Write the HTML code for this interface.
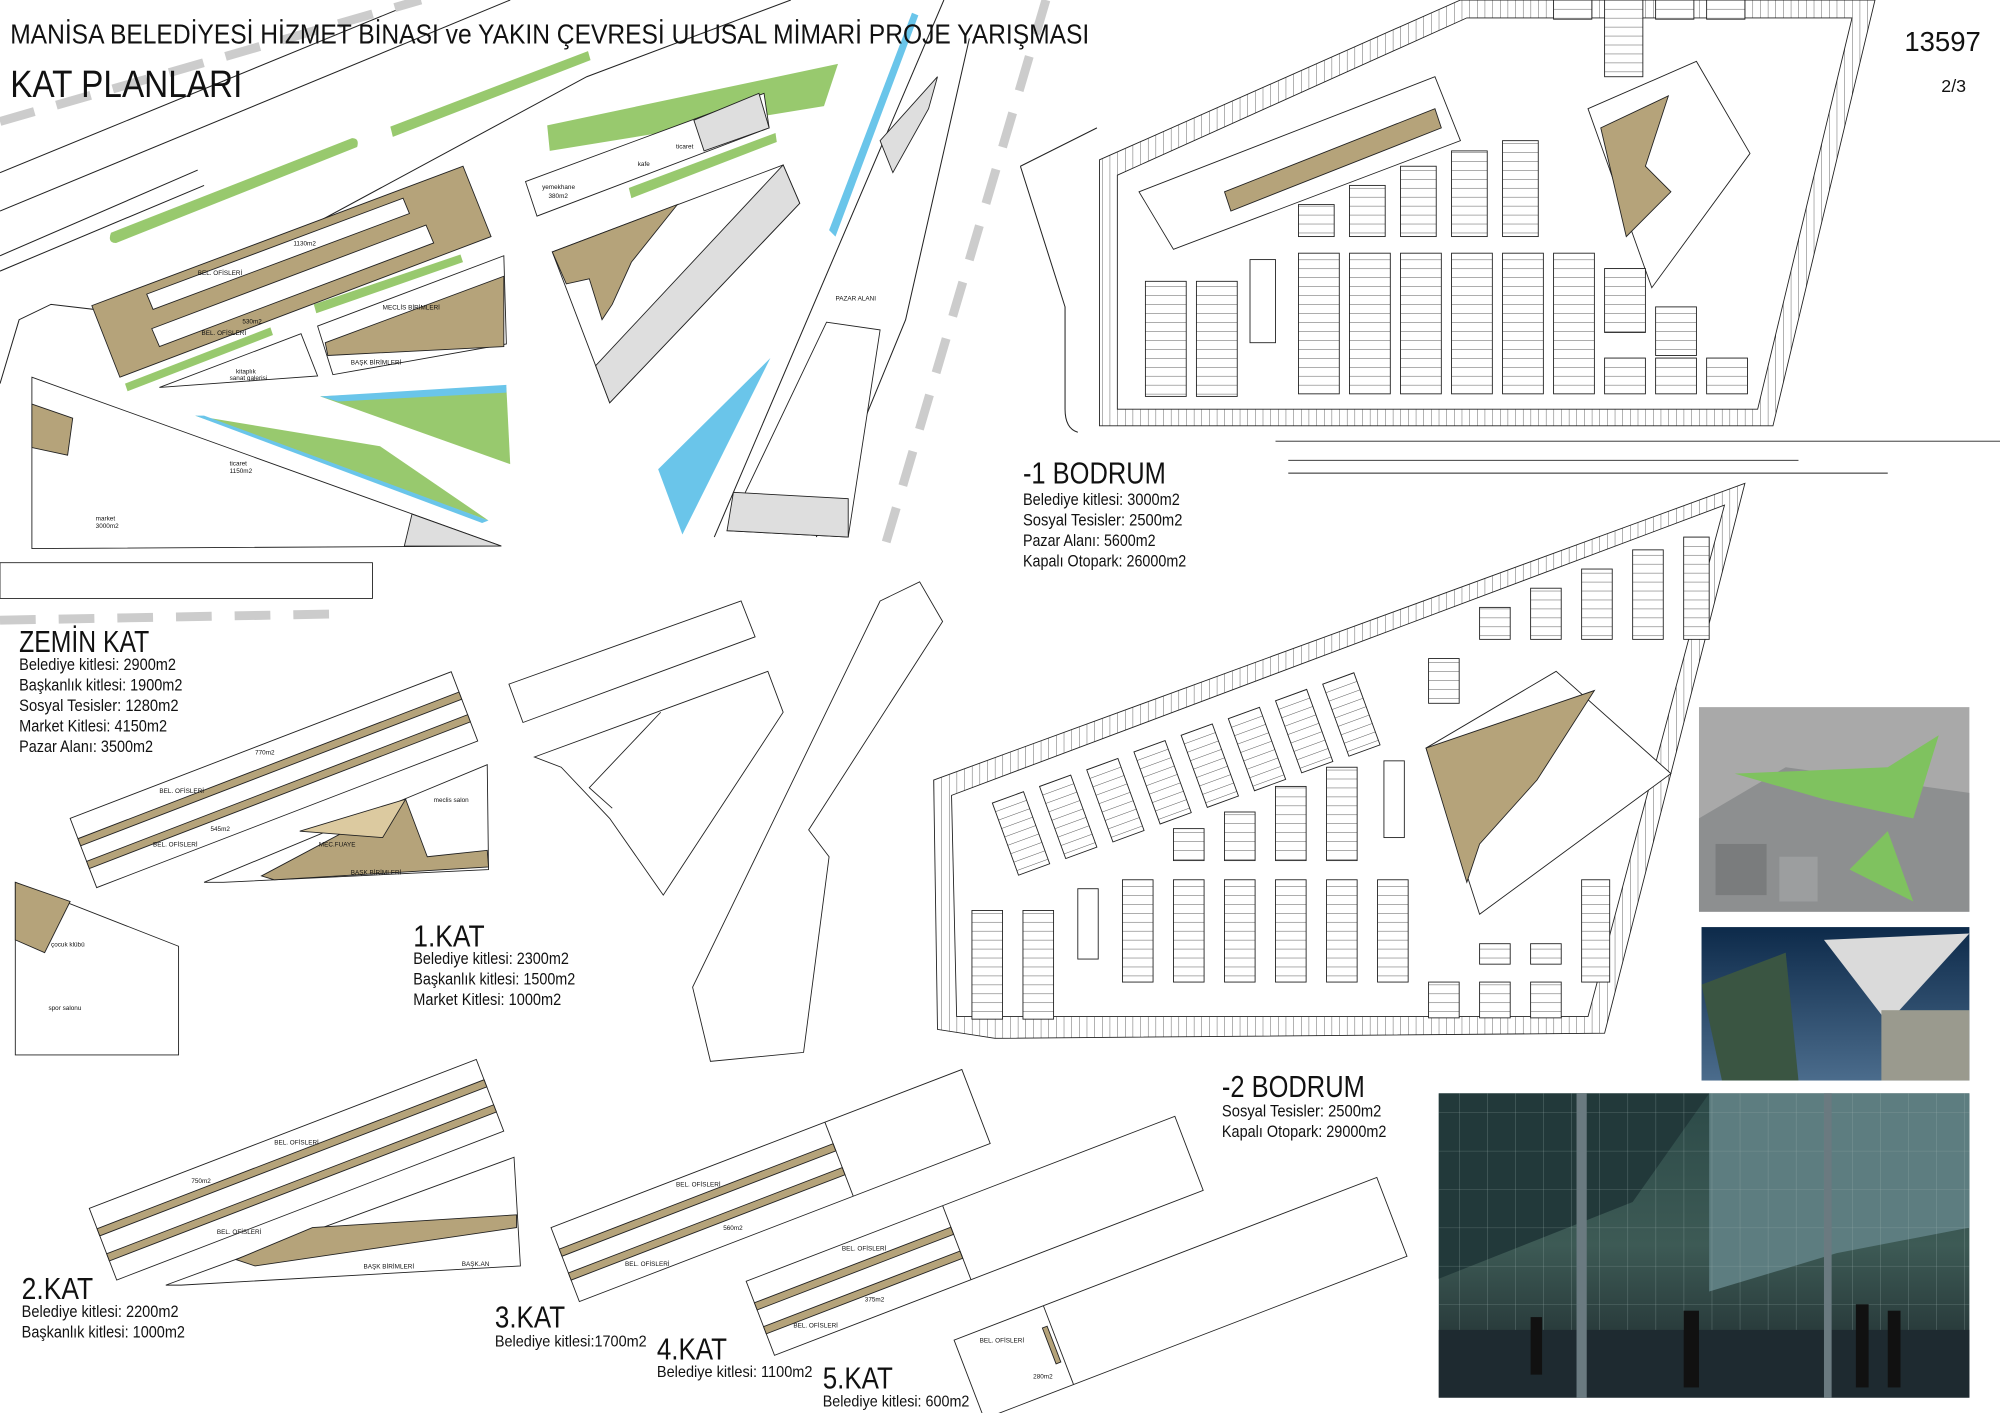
<!DOCTYPE html>
<html><head><meta charset="utf-8"><style>
html,body{margin:0;padding:0;background:#fff;}
svg{display:block;}
text{font-family:"Liberation Sans Narrow","Liberation Sans",sans-serif;fill:#111;}
</style></head><body>
<svg width="2000" height="1413" viewBox="0 0 1568 1105" preserveAspectRatio="none" xmlns="http://www.w3.org/2000/svg">
<defs>
<pattern id="pk" width="30" height="7" patternUnits="userSpaceOnUse"><rect width="30" height="7" fill="#fff"/><line x1="0" y1="0" x2="30" y2="0" stroke="#222" stroke-width="0.6"/></pattern>
<pattern id="hv" width="6" height="10" patternUnits="userSpaceOnUse"><rect width="6" height="10" fill="#fff"/><line x1="0" y1="0" x2="0" y2="10" stroke="#333" stroke-width="0.6"/></pattern>
<pattern id="gl" width="22" height="30" patternUnits="userSpaceOnUse"><line x1="0" y1="0" x2="0" y2="30" stroke="#9fb3b0" stroke-width="0.6" opacity="0.6"/><line x1="0" y1="0" x2="22" y2="0" stroke="#9fb3b0" stroke-width="0.5" opacity="0.5"/></pattern>
<linearGradient id="sky" x1="0" y1="0" x2="0" y2="1"><stop offset="0" stop-color="#0d2a4a"/><stop offset="1" stop-color="#4b6c8c"/></linearGradient>
<linearGradient id="ph3" x1="0" y1="0" x2="0" y2="1"><stop offset="0" stop-color="#2c4a48"/><stop offset="0.5" stop-color="#3d5a55"/><stop offset="1" stop-color="#1a2428"/></linearGradient>
</defs>
<g fill="none" stroke="#222" stroke-width="0.8">
<path d="M0,135 L330,0"/><path d="M0,165 L400,0"/><path d="M0,200 L155,133"/><path d="M0,212 L160,145"/>
<path d="M0,300 L15,250 L40,238 L100,245 L200,200 L460,60 L620,0"/>
<path d="M740,0 L560,420"/><path d="M760,30 L710,250 L640,420"/>
<path d="M800,130 L860,100"/><path d="M800,130 L835,240 L835,320 Q835,335 845,338"/>
</g>
<g stroke="#ccc" stroke-width="7" stroke-dasharray="28,18" fill="none">
<path d="M0,95 L330,0"/><path d="M820,0 L690,440"/><path d="M0,485 L270,480"/>
</g>
<g fill="#98c96e">
<path d="M87,182 L276,108 Q282,108 280,115 L91,190 Q84,190 87,182 Z"/>
<path d="M306,99 L461,40 L463,47 L308,107 Z"/>
<path d="M429,98 L657,50 L646,83 L431,118 Z"/>
<path d="M493,147 L608,104 L609,111 L495,155 Z"/>
<path d="M98,300 L212,256 L214,262 L100,306 Z"/>
<path d="M246,238 L361,199 L363,205 L248,245 Z"/>
<path d="M251,310 L397,303 L400,363 Z"/>
<path d="M153,325 L298,349 L383,407 Z"/>
</g>
<g fill="#6ac5ea">
<path d="M251,310 L397,301 L397,307 L265,314 Z"/>
<path d="M153,325 L160,325 L383,407 L378,409 Z"/>
<path d="M516,367 L604,280 L535,418 Z"/>
<path d="M650,180 L715,10 L720,12 L655,185 Z"/>
</g>
<g stroke="#222" stroke-width="0.7" fill="#fff">
<path d="M412,142 L599,73 L603,100 L421,169 Z"/>
<path d="M544,94 L595,73 L603,100 L552,118 Z" fill="#dedede"/>
<path d="M72,239 L363,130 L385,185 L94,295 Z" fill="#b5a37a"/>
<path d="M115,230 L316,155 L321,167 L120,242 Z"/>
<path d="M119,257 L334,176 L340,190 L125,271 Z"/>
<path d="M249,255 L395,200 L397,269 L261,293 Z"/>
<path d="M255,268 L395,216 L395,271 L257,278 Z" fill="#b5a37a"/>
<path d="M125,303 L236,261 L249,294 Z"/>
<path d="M25,295 L393,427 L25,429 Z"/>
<path d="M25,316 L57,327 L53,356 L25,350 Z" fill="#b5a37a"/>
<path d="M323,402 L393,427 L317,427 Z" fill="#dedede"/>
<path d="M0,440 L292,440 L292,468 L0,468 Z"/>
<path d="M433,197 L614,129 L627,159 L478,315 L467,286 Z"/>
<path d="M467,286 L614,129 L627,159 L478,315 Z" fill="#dedede"/>
<path d="M433,197 L531,160 L495,205 L480,238 L472,250 L462,218 L444,222 Z" fill="#b5a37a"/>
<path d="M648,252 L690,258 L665,420 L570,415 Z"/>
<path d="M575,385 L665,390 L665,420 L570,415 Z" fill="#dedede"/>
<path d="M690,110 L735,60 L728,85 L700,135 Z" fill="#dedede"/>
</g>
<g stroke="#222" stroke-width="0.7">
<g transform="translate(55,640) rotate(-21)"><rect width="320" height="58" fill="#fff"/><rect y="17" width="320" height="6" fill="#b5a37a"/><rect y="36" width="320" height="6" fill="#b5a37a"/></g>
<path d="M160,690 L382,598 L383,680 L175,690 Z" fill="#fff"/>
<path d="M205,685 L318,625 L335,670 L382,665 L383,678 L215,688 Z" fill="#b5a37a"/>
<path d="M235,650 L318,625 L300,655 Z" fill="#dccaa0"/>
<path d="M12,690 L140,740 L140,825 L12,825 Z" fill="#fff"/>
<path d="M12,690 L55,705 L35,745 L12,735 Z" fill="#b5a37a"/>
<g transform="translate(70,945) rotate(-21)"><rect width="325" height="60" fill="#fff"/><rect y="17" width="325" height="6" fill="#b5a37a"/><rect y="38" width="325" height="6" fill="#b5a37a"/></g>
<path d="M130,1005 L403,905 L408,990 L142,1005 Z" fill="#fff"/>
<path d="M185,985 L245,960 L405,950 L405,960 L200,990 Z" fill="#b5a37a"/>
<g transform="translate(432,960) rotate(-21)"><rect width="345" height="62" fill="#fff"/><rect y="18" width="230" height="6" fill="#b5a37a"/><rect y="38" width="230" height="6" fill="#b5a37a"/><line x1="230" y1="0" x2="230" y2="62"/></g>
<g transform="translate(585,1002) rotate(-21)"><rect width="360" height="62" fill="#fff"/><rect y="18" width="165" height="6" fill="#b5a37a"/><rect y="38" width="165" height="6" fill="#b5a37a"/><line x1="165" y1="0" x2="165" y2="62"/></g>
<g transform="translate(748,1048) rotate(-21)"><rect width="355" height="66" fill="#fff"/><rect x="68" y="16" width="4" height="30" fill="#b5a37a"/><line x1="75" y1="0" x2="75" y2="66"/></g>
<path d="M399,535 L581,470 L592,498 L410,565 Z" fill="#fff"/>
<path d="M419,592 L602,525 L614,557 L520,700 L478,640 L440,600 Z" fill="#fff"/>
<path d="M518,557 L462,616 L480,632" fill="none"/>
<path d="M690,470 L721,455 L739,486 L634,649 L650,670 L630,823 L557,830 L543,772 Z" fill="#fff"/>
</g>
<g stroke="#222" stroke-width="0.7">
<path fill-rule="evenodd" fill="url(#hv)" d="M862,125 L1145,0 L1470,0 L1390,333 L862,333 Z M876,137 L1150,14 L1452,14 L1378,320 L876,320 Z"/>
<path d="M893,150 L1125,60 L1145,110 L920,195 Z" fill="#fff"/>
<path d="M960,150 L1125,85 L1130,100 L965,165 Z" fill="#b5a37a"/>
<path d="M1245,85 L1330,48 L1372,120 L1295,225 Z" fill="#fff"/>
<path d="M1255,100 L1308,75 L1290,130 L1310,150 L1275,185 Z" fill="#b5a37a"/>
<g fill="url(#pk)">
<rect x="1018" y="198" width="32" height="110"/><rect x="1058" y="198" width="32" height="110"/><rect x="1098" y="198" width="32" height="110"/><rect x="1138" y="198" width="32" height="110"/><rect x="1178" y="198" width="32" height="110"/><rect x="1218" y="198" width="32" height="110"/>
<rect x="898" y="220" width="32" height="90"/><rect x="938" y="220" width="32" height="90"/>
<rect x="1258" y="210" width="32" height="50"/><rect x="1298" y="240" width="32" height="38"/><rect x="1258" y="280" width="32" height="28"/><rect x="1298" y="280" width="32" height="28"/><rect x="1338" y="280" width="32" height="28"/>
<rect x="1058" y="145" width="28" height="40"/><rect x="1098" y="130" width="28" height="55"/><rect x="1138" y="118" width="28" height="67"/><rect x="1178" y="110" width="28" height="75"/><rect x="1018" y="160" width="28" height="25"/>
<rect x="1258" y="0" width="30" height="60"/><rect x="1298" y="0" width="30" height="15"/><rect x="1338" y="0" width="30" height="15"/><rect x="1218" y="0" width="30" height="15"/>
</g>
<rect x="980" y="203" width="20" height="65" fill="#fff"/>
<line x1="1000" y1="345" x2="1568" y2="345"/><line x1="1010" y1="360" x2="1410" y2="360"/><line x1="1010" y1="370" x2="1480" y2="370"/>
</g>
<g stroke="#222" stroke-width="0.7">
<path fill-rule="evenodd" fill="url(#hv)" d="M732,610 L1368,378 L1258,808 L780,812 L735,805 Z M746,622 L1352,395 L1245,795 L750,795 Z"/>
<path d="M1118,585 L1220,525 L1310,605 L1160,715 Z" fill="#fff"/>
<path d="M1118,585 L1250,540 L1205,610 L1160,660 L1150,690 Z" fill="#b5a37a"/>
<g fill="url(#pk)">
<rect x="880" y="688" width="24" height="80"/><rect x="920" y="688" width="24" height="80"/><rect x="960" y="688" width="24" height="80"/><rect x="1000" y="688" width="24" height="80"/><rect x="1040" y="688" width="24" height="80"/><rect x="1080" y="688" width="24" height="80"/>
<rect x="762" y="712" width="24" height="85"/><rect x="802" y="712" width="24" height="85"/>
<rect x="920" y="648" width="24" height="25"/><rect x="960" y="635" width="24" height="38"/><rect x="1000" y="615" width="24" height="58"/><rect x="1040" y="600" width="24" height="73"/>
<rect x="1120" y="768" width="24" height="28"/><rect x="1160" y="768" width="24" height="28"/><rect x="1200" y="768" width="24" height="28"/><rect x="1160" y="738" width="24" height="16"/><rect x="1200" y="738" width="24" height="16"/><rect x="1240" y="688" width="22" height="80"/>
<rect x="1120" y="515" width="24" height="35"/><rect x="1160" y="475" width="24" height="25"/><rect x="1200" y="460" width="24" height="40"/><rect x="1240" y="445" width="24" height="55"/><rect x="1280" y="430" width="24" height="70"/><rect x="1320" y="420" width="20" height="80"/>
</g>
<g fill="url(#pk)">
<g transform="translate(778,628) rotate(-20)"><rect width="26" height="60"/></g>
<g transform="translate(815,615) rotate(-20)"><rect width="26" height="60"/></g>
<g transform="translate(852,602) rotate(-20)"><rect width="26" height="60"/></g>
<g transform="translate(889,588) rotate(-20)"><rect width="26" height="60"/></g>
<g transform="translate(926,575) rotate(-20)"><rect width="26" height="60"/></g>
<g transform="translate(963,562) rotate(-20)"><rect width="26" height="60"/></g>
<g transform="translate(1000,548) rotate(-20)"><rect width="26" height="60"/></g>
<g transform="translate(1037,535) rotate(-20)"><rect width="26" height="60"/></g>
</g>
<rect x="845" y="695" width="16" height="55" fill="#fff"/><rect x="1085" y="595" width="16" height="60" fill="#fff"/>
</g>
<rect x="1332" y="553" width="212" height="160" fill="#a9a9a9"/>
<path d="M1332,640 L1400,600 L1544,620 L1544,713 L1332,713Z" fill="#8d8f90"/>
<rect x="1345" y="660" width="40" height="40" fill="#7a7c7d"/><rect x="1395" y="670" width="30" height="35" fill="#9c9e9f"/>
<path d="M1360,605 L1480,600 L1520,575 L1500,640 L1430,625Z" fill="#7fc25f"/>
<path d="M1450,680 L1480,650 L1500,705 Z" fill="#7fc25f"/>
<rect x="1334" y="725" width="210" height="120" fill="url(#sky)"/>
<path d="M1334,770 L1400,745 L1410,845 L1350,845Z" fill="#3a5542"/>
<path d="M1430,735 L1544,730 L1480,800Z" fill="#dadada"/>
<rect x="1475" y="790" width="69" height="55" fill="#9a9a8e"/>
<rect x="1128" y="855" width="416" height="238" fill="url(#ph3)"/>
<path d="M1128,855 L1340,855 L1280,940 L1128,1000Z" fill="#22393a"/>
<path d="M1340,855 L1544,855 L1544,960 L1440,980 L1340,1010Z" fill="#5d7d80"/>
<rect x="1128" y="855" width="416" height="200" fill="url(#gl)"/>
<rect x="1128" y="1040" width="416" height="53" fill="#1e2a30"/>
<rect x="1236" y="855" width="8" height="238" fill="#6a7a80"/>
<rect x="1430" y="855" width="6" height="238" fill="#6a7a80"/>
<g fill="#111"><rect x="1320" y="1025" width="12" height="60"/><rect x="1455" y="1020" width="10" height="65"/><rect x="1480" y="1025" width="10" height="60"/><rect x="1200" y="1030" width="9" height="45"/></g>
<text x="8" y="34" font-size="22" textLength="846" lengthAdjust="spacingAndGlyphs">MANİSA BELEDİYESİ HİZMET BİNASI ve YAKIN ÇEVRESİ ULUSAL MİMARİ PROJE YARIŞMASI</text>
<text x="8" y="76" font-size="30" textLength="182" lengthAdjust="spacingAndGlyphs">KAT PLANLARI</text>
<text x="1493" y="40" font-size="22" textLength="60" lengthAdjust="spacingAndGlyphs">13597</text>
<text x="1522" y="72" font-size="14">2/3</text>
<text x="802" y="378" font-size="24" textLength="112" lengthAdjust="spacingAndGlyphs">-1 BODRUM</text>
<g font-size="13"><text x="802" y="395" textLength="123" lengthAdjust="spacingAndGlyphs">Belediye kitlesi: 3000m2</text><text x="802" y="411" textLength="125" lengthAdjust="spacingAndGlyphs">Sosyal Tesisler: 2500m2</text><text x="802" y="427" textLength="104" lengthAdjust="spacingAndGlyphs">Pazar Alanı: 5600m2</text><text x="802" y="443" textLength="128" lengthAdjust="spacingAndGlyphs">Kapalı Otopark: 26000m2</text></g>
<text x="15" y="510" font-size="24" textLength="102" lengthAdjust="spacingAndGlyphs">ZEMİN KAT</text>
<g font-size="13"><text x="15" y="524" textLength="123" lengthAdjust="spacingAndGlyphs">Belediye kitlesi: 2900m2</text><text x="15" y="540" textLength="128" lengthAdjust="spacingAndGlyphs">Başkanlık kitlesi: 1900m2</text><text x="15" y="556" textLength="125" lengthAdjust="spacingAndGlyphs">Sosyal Tesisler: 1280m2</text><text x="15" y="572" textLength="116" lengthAdjust="spacingAndGlyphs">Market Kitlesi: 4150m2</text><text x="15" y="588" textLength="105" lengthAdjust="spacingAndGlyphs">Pazar Alanı: 3500m2</text></g>
<text x="324" y="740" font-size="24" textLength="56" lengthAdjust="spacingAndGlyphs">1.KAT</text>
<g font-size="13"><text x="324" y="754" textLength="122" lengthAdjust="spacingAndGlyphs">Belediye kitlesi: 2300m2</text><text x="324" y="770" textLength="127" lengthAdjust="spacingAndGlyphs">Başkanlık kitlesi: 1500m2</text><text x="324" y="786" textLength="116" lengthAdjust="spacingAndGlyphs">Market Kitlesi: 1000m2</text></g>
<text x="958" y="858" font-size="24" textLength="112" lengthAdjust="spacingAndGlyphs">-2 BODRUM</text>
<g font-size="13"><text x="958" y="873" textLength="125" lengthAdjust="spacingAndGlyphs">Sosyal Tesisler: 2500m2</text><text x="958" y="889" textLength="129" lengthAdjust="spacingAndGlyphs">Kapalı Otopark: 29000m2</text></g>
<text x="17" y="1016" font-size="24" textLength="56" lengthAdjust="spacingAndGlyphs">2.KAT</text>
<g font-size="13"><text x="17" y="1030" textLength="123" lengthAdjust="spacingAndGlyphs">Belediye kitlesi: 2200m2</text><text x="17" y="1046" textLength="128" lengthAdjust="spacingAndGlyphs">Başkanlık kitlesi: 1000m2</text></g>
<text x="388" y="1038" font-size="24" textLength="55" lengthAdjust="spacingAndGlyphs">3.KAT</text>
<text x="388" y="1053" font-size="12" textLength="119" lengthAdjust="spacingAndGlyphs">Belediye kitlesi:1700m2</text>
<text x="515" y="1063" font-size="24" textLength="55" lengthAdjust="spacingAndGlyphs">4.KAT</text>
<text x="515" y="1077" font-size="12" textLength="122" lengthAdjust="spacingAndGlyphs">Belediye kitlesi: 1100m2</text>
<text x="645" y="1086" font-size="24" textLength="55" lengthAdjust="spacingAndGlyphs">5.KAT</text>
<text x="645" y="1100" font-size="12" textLength="115" lengthAdjust="spacingAndGlyphs">Belediye kitlesi: 600m2</text>
<g font-size="5">
<text x="230" y="192">1130m2</text><text x="155" y="215">BEL. OFİSLERİ</text><text x="190" y="253">530m2</text><text x="158" y="262">BEL. OFİSLERİ</text><text x="300" y="242">MECLİS BİRİMLERİ</text><text x="275" y="285">BAŞK BİRİMLERİ</text><text x="185" y="292">kitaplık</text><text x="180" y="297">sanat galerisi</text>
<text x="425" y="148">yemekhane</text><text x="430" y="155">380m2</text><text x="500" y="130">kafe</text><text x="530" y="116">ticaret</text><text x="655" y="235">PAZAR ALANI</text><text x="180" y="364">ticaret</text><text x="180" y="370">1150m2</text><text x="75" y="407">market</text><text x="75" y="413">3000m2</text>
<text x="200" y="590">770m2</text><text x="125" y="620">BEL. OFİSLERİ</text><text x="165" y="650">545m2</text><text x="120" y="662">BEL. OFİSLERİ</text><text x="250" y="662">MEC.FUAYE</text><text x="275" y="684">BAŞK BİRİMLERİ</text><text x="340" y="627">meclis salon</text><text x="40" y="740">çocuk klübü</text><text x="38" y="790">spor salonu</text>
<text x="215" y="895">BEL. OFİSLERİ</text><text x="150" y="925">750m2</text><text x="170" y="965">BEL. OFİSLERİ</text><text x="285" y="992">BAŞK BİRİMLERİ</text><text x="362" y="990">BAŞK.AN</text>
<text x="530" y="928">BEL. OFİSLERİ</text><text x="567" y="962">560m2</text><text x="490" y="990">BEL. OFİSLERİ</text><text x="660" y="978">BEL. OFİSLERİ</text><text x="678" y="1018">375m2</text><text x="622" y="1038">BEL. OFİSLERİ</text><text x="768" y="1050">BEL. OFİSLERİ</text><text x="810" y="1078">280m2</text>
</g>
</svg>
</body></html>
